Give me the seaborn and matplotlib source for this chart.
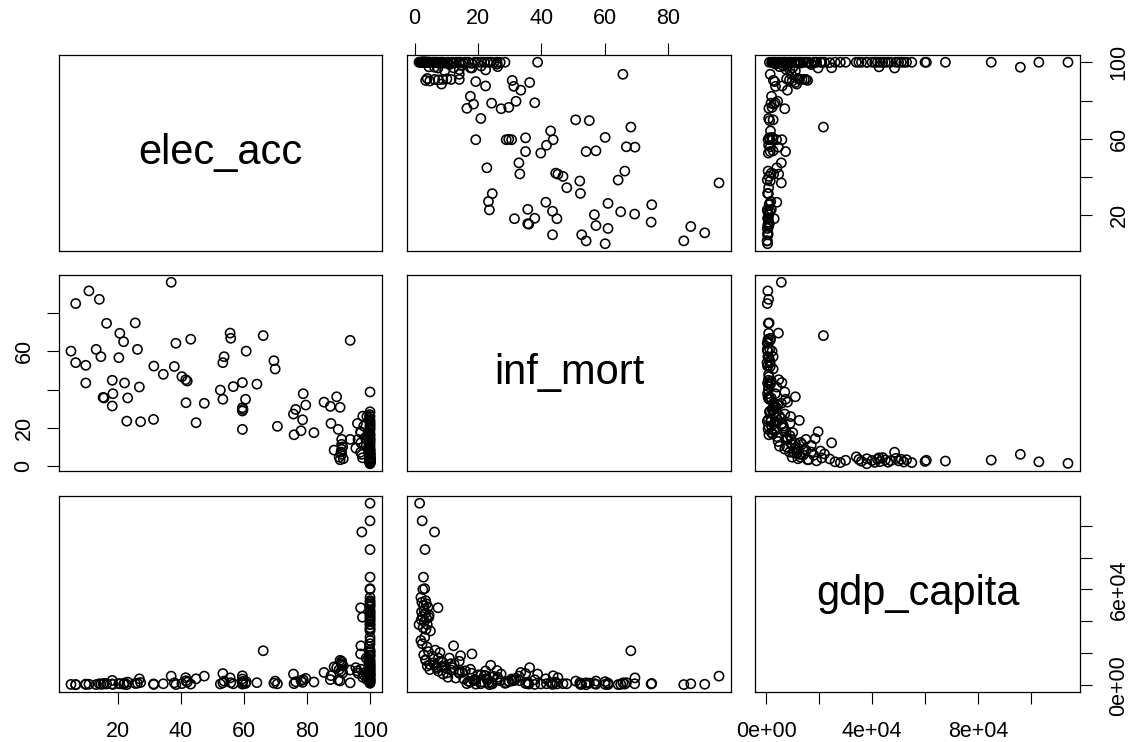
import matplotlib
matplotlib.use('Agg')
import matplotlib.pyplot as plt
import numpy as np
import pandas as pd
import seaborn as sns

# access to electricity (% of population), one value per country
elec_acc = [
    5.1, 6.6, 6.6, 10.8, 9.8, 9.8, 14.1, 13.1, 14.6, 16.4,
    15.3, 15.6, 18.2, 18.4, 18.2, 20.6, 21.8, 20.3, 22.1, 23.1,
    22.8, 25.5, 26.2, 26.8, 27.2, 31.3, 31.4, 34.4, 36.9, 38.4,
    37.9, 40.3, 41.5, 42.0, 43.1, 41.6, 44.8, 47.4, 52.5, 53.3,
    53.3, 53.7, 55.6, 55.8, 56.6, 59.5, 60.7, 60.5, 59.5, 59.5,
    59.7, 59.5, 64.1, 66.1, 69.5, 69.9, 70.6, 75.7, 76.4, 75.9,
    78.1, 78.6, 78.8, 79.6, 82.2, 85.4, 87.4, 89.4, 90.5, 87.6,
    89.9, 88.6, 91.0, 91.0, 91.0, 91.0, 93.7, 93.7, 96.0, 97.7,
    97.1, 96.2, 97.4, 100.0, 97.0, 97.1, 97.0, 97.6, 95.5, 98.5,
    98.8, 99.0, 98.0, 91.5, 90.5, 90.2, 90.8, 91.3,
    100.0, 100.0, 100.0, 100.0, 100.0, 100.0, 100.0, 100.0, 100.0, 100.0,
    100.0, 100.0, 100.0, 100.0, 100.0, 100.0, 100.0, 100.0, 100.0, 100.0,
    100.0, 100.0, 100.0, 100.0, 100.0, 100.0, 100.0, 100.0, 99.8, 100.0,
    100.0, 100.0, 100.0, 99.5, 100.0, 100.0, 100.0, 100.0, 99.6, 100.0,
    100.0, 99.7, 100.0, 100.0, 99.4, 100.0, 100.0, 99.8, 100.0, 100.0,
    99.5, 100.0, 100.0, 99.9, 100.0, 100.0, 100.0, 100.0, 100.0, 99.6,
    100.0, 100.0, 100.0, 100.0,
]

# infant mortality (per 1000 live births)
inf_mort = [
    60.1, 84.9, 54.1, 91.5, 52.7, 43.5, 87.1, 61.0, 57.2, 74.6,
    36.0, 35.7, 31.5, 37.9, 44.9, 69.4, 65.0, 56.7, 43.5, 35.7,
    23.6, 74.8, 61.0, 41.4, 23.3, 24.5, 52.3, 48.0, 96.0, 64.2,
    52.1, 46.8, 45.2, 44.5, 66.3, 33.2, 22.8, 32.9, 39.8, 35.0,
    54.1, 57.2, 69.5, 66.8, 41.6, 43.7, 60.1, 35.0, 30.6, 28.9,
    29.7, 19.3, 42.9, 68.2, 55.1, 50.8, 20.9, 27.3, 29.7, 16.5,
    18.6, 24.3, 37.9, 32.0, 17.6, 33.5, 31.3, 36.3, 30.8, 22.4,
    19.3, 8.5, 14.1, 11.5, 8.9, 6.3, 65.7, 14.1, 22.4, 26.2,
    17.6, 14.1, 6.3, 38.8, 7.4, 12.3, 18.1, 4.5, 9.5, 15.0,
    11.0, 26.0, 21.0, 4.0, 3.5, 4.8, 7.5, 10.2,
    1.6, 2.4, 3.3, 2.8, 2.6, 3.2, 2.0, 3.5, 2.3, 3.7,
    2.9, 4.2, 3.0, 2.2, 3.4, 4.6, 2.5, 3.8, 2.1, 3.1,
    4.0, 1.4, 2.7, 3.6, 5.0, 3.2, 2.0, 2.4, 3.9, 6.5,
    4.4, 2.9, 5.8, 7.5, 3.5, 8.5, 6.0, 4.8, 9.5, 12.0,
    7.0, 11.5, 16.0, 14.0, 18.0, 20.0, 22.0, 25.0, 10.5, 13.0,
    15.5, 19.0, 23.0, 27.0, 28.5, 17.0, 21.0, 9.0, 6.8, 12.5,
    26.0, 24.0, 14.5, 8.0,
]

# GDP per capita (current US$)
gdp_capita = [
    500, 400, 300, 600, 700, 500, 900, 400, 600, 800,
    700, 1200, 3000, 500, 800, 900, 600, 1000, 1400, 1900,
    400, 1100, 1300, 4000, 1700, 800, 500, 900, 5700, 400,
    1500, 1000, 4700, 1900, 700, 2800, 4000, 5700, 800, 7300,
    1500, 2600, 4600, 1600, 900, 5900, 2200, 1100, 3900, 1500,
    2500, 700, 1600, 21600, 1300, 2600, 900, 7000, 2200, 1000,
    2900, 1800, 3400, 4300, 2000, 8000, 3500, 11000, 2700, 6000,
    3200, 11500, 15000, 13500, 14400, 12600, 1500, 9500, 9000, 5000,
    10000, 7500, 96000, 7000, 48500, 24700, 19600, 42600, 11000, 8000,
    17000, 3500, 6500, 12000, 15600, 9800, 8800, 7700,
    114000, 103000, 85000, 67700, 60000, 60500, 55000, 53000, 52000, 51000,
    50000, 49000, 47000, 46000, 45000, 44000, 43000, 42000, 41000, 40000,
    38000, 38000, 36000, 35000, 34000, 30000, 28000, 26000, 24000, 22000,
    21000, 19000, 18000, 17000, 16000, 15000, 14000, 13000, 12000, 11000,
    10500, 9500, 9000, 8000, 7500, 6500, 6000, 5500, 5000, 4500,
    4000, 3600, 3200, 2800, 1200, 2400, 2000, 7000, 11500, 13000,
    9200, 12500, 18500, 20500,
]

variables = ['elec_acc', 'inf_mort', 'gdp_capita']

elec_ticks = [20, 40, 60, 80, 100]
inf_ticks = [0, 20, 40, 60, 80]
gdp_ticks = [0, 20000, 40000, 60000, 80000, 100000]


def r_range(values):
    # R style axis range: data range stretched by 4% on each side
    lo, hi = min(values), max(values)
    pad = 0.04 * (hi - lo)
    return lo - pad, hi + pad


def rotate_labels(ax, ha):
    # y tick labels parallel to the axis, like R's las=0
    for lab in ax.get_yticklabels():
        lab.set_rotation(90)
        lab.set_ha(ha)
        lab.set_va('center')
        lab.set_rotation_mode('default')


def main():
    df = pd.DataFrame({'elec_acc': elec_acc,
                       'inf_mort': inf_mort,
                       'gdp_capita': gdp_capita})

    sns.set_style('white')
    plt.rcParams['font.family'] = ['Liberation Sans', 'DejaVu Sans']
    plt.rcParams['text.color'] = 'black'

    W, H = 1129, 742
    fig = plt.figure(figsize=(W / 100, H / 100), dpi=100)

    # panel boxes in pixels
    col_px = [(59, 382), (407, 731), (755, 1080)]
    row_px = [(55, 251), (275, 471), (496, 692)]

    lims = {v: r_range(df[v]) for v in variables}
    axes = [[None] * 3 for _ in range(3)]

    for i, yvar in enumerate(variables):
        for j, xvar in enumerate(variables):
            x0, x1 = col_px[j]
            y0, y1 = row_px[i]
            ax = fig.add_axes([x0 / W, 1 - y1 / H, (x1 - x0) / W, (y1 - y0) / H])
            axes[i][j] = ax

            if i == j:
                ax.text(0.5, 0.5, xvar, transform=ax.transAxes, color='black',
                        ha='center', va='center', fontsize=30)
            else:
                sns.scatterplot(data=df, x=xvar, y=yvar, ax=ax, marker='o', s=44,
                                facecolors='none', edgecolors='black', linewidth=1.15)

            ax.set_xlim(lims[xvar])
            ax.set_ylim(lims[yvar])
            ax.set_xlabel('')
            ax.set_ylabel('')
            for sp in ax.spines.values():
                sp.set_color('black')
                sp.set_linewidth(0.9)
            ax.tick_params(which='both', bottom=False, top=False, left=False, right=False,
                           labelbottom=False, labeltop=False, labelleft=False, labelright=False,
                           direction='out', length=8.6, width=0.8, color='black',
                           labelsize=15.5, labelcolor='black', pad=9)

    # bottom axis, column 1
    ax = axes[2][0]
    ax.set_xticks(elec_ticks)
    ax.set_xticklabels([str(t) for t in elec_ticks])
    ax.tick_params(axis='x', bottom=True, labelbottom=True, pad=12)

    # top axis, column 2
    ax = axes[0][1]
    ax.set_xticks(inf_ticks)
    ax.set_xticklabels([str(t) for t in inf_ticks])
    ax.tick_params(axis='x', top=True, labeltop=True, pad=10)

    # bottom axis, column 3
    ax = axes[2][2]
    ax.set_xticks(gdp_ticks)
    ax.set_xticklabels(['0e+00', '', '4e+04', '', '8e+04', ''])
    ax.tick_params(axis='x', bottom=True, labelbottom=True, pad=12)

    # right axis, row 1
    ax = axes[0][2]
    ax.set_yticks(elec_ticks)
    ax.set_yticklabels(['20', '', '60', '', '100'])
    ax.tick_params(axis='y', right=True, labelright=True, pad=12)
    rotate_labels(ax, 'left')

    # left axis, row 2
    ax = axes[1][0]
    ax.set_yticks(inf_ticks)
    ax.set_yticklabels(['0', '20', '', '60', ''])
    ax.tick_params(axis='y', left=True, labelleft=True, pad=9)
    rotate_labels(ax, 'right')

    # right axis, row 3
    ax = axes[2][2]
    ax.set_yticks(gdp_ticks)
    ax.set_yticklabels(['0e+00', '', '', '6e+04', '', ''])
    ax.tick_params(axis='y', right=True, labelright=True, pad=12)
    rotate_labels(ax, 'left')

    fig.savefig('out.png', dpi=100, facecolor='white')


if __name__ == '__main__':
    main()
